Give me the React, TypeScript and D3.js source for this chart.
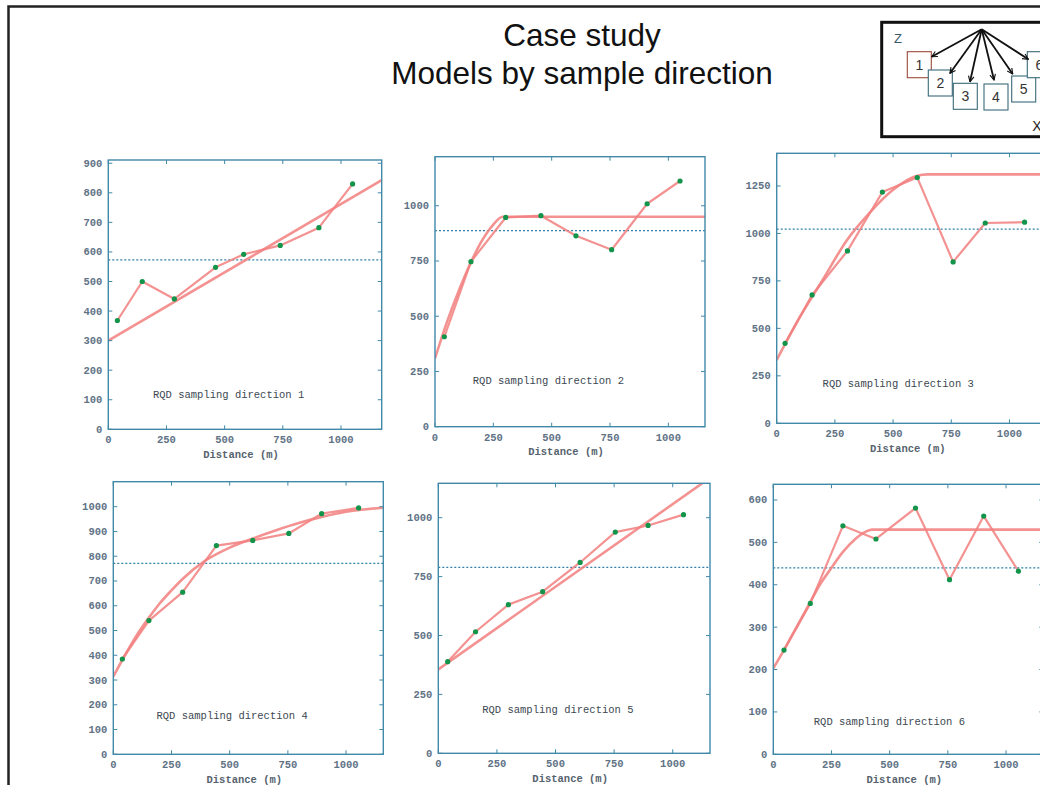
import React from "react";
import * as d3 from "d3";

// ---------- DATA ----------
const xTicks = [0, 250, 500, 750, 1000];

const dist1 = [39, 146, 284, 461, 582, 739, 905, 1050];
const rqd1 = [368, 500, 441, 548, 592, 622, 682, 830];
const model1X = [0, 1175];
const model1Y = [300, 843];
const mean1 = 573;
const yTicks1 = [0, 100, 200, 300, 400, 500, 600, 700, 800, 900];

const dist2 = [40, 154, 303, 454, 604, 757, 909, 1050];
const rqd2 = [407, 747, 947, 955, 864, 801, 1009, 1112];
const model2X = [0, 50, 100, 150, 200, 250, 290, 1160];
const model2Y = [309, 470, 610, 735, 840, 915, 950, 950];
const mean2 = 887;
const yTicks2 = [0, 250, 500, 750, 1000];

const dist3 = [36, 152, 304, 454, 604, 758, 896, 1065];
const rqd3 = [421, 676, 908, 1218, 1294, 850, 1055, 1059];
const model3X = [0, 100, 200, 300, 400, 500, 600, 650, 1200];
const model3Y = [333, 560, 760, 962, 1110, 1230, 1303, 1311, 1311];
const mean3 = 1023;
const yTicks3 = [0, 250, 500, 750, 1000, 1250];

const dist4 = [39, 153, 298, 443, 599, 754, 895, 1054];
const rqd4 = [385, 540, 655, 843, 864, 892, 972, 995];
const model4X = [0, 50, 100, 150, 200, 250, 300, 400, 500, 600, 700, 800, 900, 1000, 1160];
const model4Y = [314, 400, 480, 548, 610, 662, 710, 785, 835, 872, 905, 935, 960, 980, 996];
const mean4 = 771;
const yTicks4 = [0, 100, 200, 300, 400, 500, 600, 700, 800, 900, 1000];

const dist5 = [40, 159, 299, 445, 605, 755, 895, 1046];
const rqd5 = [389, 516, 631, 686, 810, 939, 967, 1013];
const model5X = [0, 1160];
const model5Y = [356, 1170];
const mean5 = 789;
const yTicks5 = [0, 250, 500, 750, 1000];

const dist6 = [46, 159, 299, 441, 611, 757, 904, 1053];
const rqd6 = [246, 356, 539, 508, 581, 412, 562, 432];
const model6X = [0, 50, 100, 150, 200, 250, 300, 350, 400, 425, 1160];
const model6Y = [203, 250, 300, 350, 400, 440, 478, 507, 526, 530, 530];
const mean6 = 440;
const yTicks6 = [0, 100, 200, 300, 400, 500, 600];

const panelTitles = [
  "RQD sampling direction 1",
  "RQD sampling direction 2",
  "RQD sampling direction 3",
  "RQD sampling direction 4",
  "RQD sampling direction 5",
  "RQD sampling direction 6",
];
const xAxisTitle = "Distance (m)";
const titleLine1 = "Case study";
const titleLine2 = "Models by sample direction";
const insetBoxes = ["1", "2", "3", "4", "5", "6"];

// ---------- LAYOUT ----------
const panels = [
  { x0: 108.3, x1: 381.7, y0: 160, y1: 429.3, xMax: 1175, yMax: 911, lx: 0.44, ly: 0.885,
    dist: dist1, rqd: rqd1, mx: model1X, my: model1Y, mean: mean1, yTicks: yTicks1 },
  { x0: 435, x1: 705, y0: 156.7, y1: 426.7, xMax: 1157, yMax: 1222, lx: 0.42, ly: 0.84,
    dist: dist2, rqd: rqd2, mx: model2X, my: model2Y, mean: mean2, yTicks: yTicks2 },
  { x0: 776.7, x1: 1046.7, y0: 153.3, y1: 423.3, xMax: 1160, yMax: 1422, lx: 0.45, ly: 0.865,
    dist: dist3, rqd: rqd3, mx: model3X, my: model3Y, mean: mean3, yTicks: yTicks3 },
  { x0: 113.3, x1: 383.3, y0: 481.7, y1: 754.3, xMax: 1160, yMax: 1101, lx: 0.44, ly: 0.87,
    dist: dist4, rqd: rqd4, mx: model4X, my: model4Y, mean: mean4, yTicks: yTicks4 },
  { x0: 438.3, x1: 710, y0: 483.3, y1: 753.3, xMax: 1159, yMax: 1146, lx: 0.44, ly: 0.85,
    dist: dist5, rqd: rqd5, mx: model5X, my: model5Y, mean: mean5, yTicks: yTicks5 },
  { x0: 773.3, x1: 1043.3, y0: 484.3, y1: 754.3, xMax: 1160, yMax: 637, lx: 0.43, ly: 0.89,
    dist: dist6, rqd: rqd6, mx: model6X, my: model6Y, mean: mean6, yTicks: yTicks6 },
];

const AXIS = "#4189a8";
const TICKTXT = "#5f7386";
const RED = "#f27f7f";
const GREEN = "#12954a";
const MONO = "'Liberation Mono', 'DejaVu Sans Mono', monospace";

function Panel({ p, idx }: { p: any; idx: number }) {
  const x = d3.scaleLinear().domain([0, p.xMax]).range([p.x0, p.x1]);
  const y = d3.scaleLinear().domain([0, p.yMax]).range([p.y1, p.y0]);
  const line = d3.line<[number, number]>().x((d) => x(d[0])).y((d) => y(d[1]));
  const modelLine = d3
    .line<[number, number]>()
    .x((d) => x(d[0]))
    .y((d) => y(d[1]))
    .curve(d3.curveMonotoneX);
  const dataPts: [number, number][] = p.dist.map((d: number, i: number) => [d, p.rqd[i]]);
  const modelPts: [number, number][] = p.mx.map((d: number, i: number) => [d, p.my[i]]);
  const clipId = `clip${idx}`;
  const tl = 4;
  return (
    <g>
      <defs>
        <clipPath id={clipId}>
          <rect x={p.x0} y={p.y0} width={p.x1 - p.x0} height={p.y1 - p.y0} />
        </clipPath>
      </defs>
      <g clipPath={`url(#${clipId})`}>
        <line x1={x(0)} x2={x(p.xMax)} y1={y(p.mean)} y2={y(p.mean)}
          stroke="#2f7fa6" strokeWidth={1.2} strokeDasharray="2,2" />
        <path d={modelLine(modelPts) || ""} fill="none" stroke={RED} strokeWidth={2.6}
          strokeOpacity={0.85} strokeLinejoin="round" />
        <path d={line(dataPts) || ""} fill="none" stroke={RED} strokeWidth={2.2}
          strokeOpacity={0.85} strokeLinejoin="round" />
        {dataPts.map((d, i) => (
          <circle key={i} cx={x(d[0])} cy={y(d[1])} r={2.6} fill={GREEN} />
        ))}
      </g>
      <rect x={p.x0} y={p.y0} width={p.x1 - p.x0} height={p.y1 - p.y0}
        fill="none" stroke={AXIS} strokeWidth={1.4} />
      {xTicks.map((t) => (
        <g key={"x" + t}>
          <line x1={x(t)} x2={x(t)} y1={p.y1} y2={p.y1 - tl} stroke={AXIS} strokeWidth={1} />
          <line x1={x(t)} x2={x(t)} y1={p.y0} y2={p.y0 + tl} stroke={AXIS} strokeWidth={1} />
          <text x={x(t)} y={p.y1 + 14} textAnchor="middle" fontFamily={MONO}
            fontSize={10.5} fontWeight="bold" fill={TICKTXT}>{t}</text>
        </g>
      ))}
      {p.yTicks.map((t: number) => (
        <g key={"y" + t}>
          <line x1={p.x0} x2={p.x0 + tl} y1={y(t)} y2={y(t)} stroke={AXIS} strokeWidth={1} />
          <line x1={p.x1} x2={p.x1 - tl} y1={y(t)} y2={y(t)} stroke={AXIS} strokeWidth={1} />
          <text x={p.x0 - 6} y={y(t) + 3.5} textAnchor="end" fontFamily={MONO}
            fontSize={10.5} fontWeight="bold" fill={TICKTXT}>{t}</text>
        </g>
      ))}
      <text x={(p.x0 + p.x1) / 2 - 4} y={p.y1 + 28.5} textAnchor="middle" fontFamily={MONO}
        fontSize={10.5} fontWeight="bold" fill="#56636e">{xAxisTitle}</text>
      <text x={p.x0 + p.lx * (p.x1 - p.x0)} y={p.y0 + p.ly * (p.y1 - p.y0)} textAnchor="middle"
        fontFamily={MONO} fontSize={10.5} fill="#3c4852">{panelTitles[idx]}</text>
    </g>
  );
}

const insetLayout = [
  { x: 907.3, y: 51.7, c: "#9a4a3a", ax: 931.7, ay: 56.7 },
  { x: 928.3, y: 70, c: "#3a6a78", ax: 950, ay: 73.3 },
  { x: 953.3, y: 83.3, c: "#3a6a78", ax: 970, ay: 81.7 },
  { x: 984, y: 84, c: "#3a6a78", ax: 994, ay: 80 },
  { x: 1011.7, y: 76, c: "#3a6a78", ax: 1012.7, ay: 74 },
  { x: 1027.3, y: 51.7, c: "#3a6a78", ax: 1028.3, ay: 59.3 },
];

function Inset() {
  const apex = [981.7, 29.3];
  return (
    <g>
      <defs>
        <marker id="arr" viewBox="0 0 10 10" refX="9" refY="5" markerWidth="7" markerHeight="7"
          orient="auto" markerUnits="userSpaceOnUse">
          <path d="M1,1 L9,5 L1,9" fill="none" stroke="#111" strokeWidth={1.6} />
        </marker>
      </defs>
      <rect x={881.7} y={22.3} width={220} height={114.4} fill="#fff" stroke="#111" strokeWidth={3} />
      <text x={898} y={43} fontFamily="Arial, 'Liberation Sans', sans-serif" fontSize={13}
        fill="#3a5a6a" textAnchor="middle">Z</text>
      <text x={1037} y={131} fontFamily="Arial, 'Liberation Sans', sans-serif" fontSize={14}
        fill="#222" textAnchor="middle">X</text>
      {insetLayout.map((b, i) => (
        <g key={i}>
          <rect x={b.x} y={b.y} width={24} height={26} fill="#fff" stroke={b.c} strokeWidth={1.1} />
          <text x={b.x + 12} y={b.y + 18} textAnchor="middle"
            fontFamily="Arial, 'Liberation Sans', sans-serif" fontSize={14} fill="#333">
            {insetBoxes[i]}
          </text>
        </g>
      ))}
      {insetLayout.map((b, i) => (
        <line key={"a" + i} x1={apex[0]} y1={apex[1]} x2={b.ax} y2={b.ay} stroke="#111"
          strokeWidth={1.8} markerEnd="url(#arr)" />
      ))}
    </g>
  );
}

export default function App() {
  return (
    <svg width={1040} height={785} style={{ position: "absolute", left: 0, top: 0, background: "#fff" }}>
      <rect x={0} y={0} width={1040} height={785} fill="#fff" />
      <path d="M8.5,790 V6.5 H1045" fill="none" stroke="#222" strokeWidth={2.5} />
      <text x={582} y={46} textAnchor="middle" fontFamily="Arial, 'Liberation Sans', sans-serif"
        fontSize={31.5} fill="#111">{titleLine1}</text>
      <text x={582} y={84} textAnchor="middle" fontFamily="Arial, 'Liberation Sans', sans-serif"
        fontSize={31.5} fill="#111">{titleLine2}</text>
      <Inset />
      {panels.map((p, i) => (
        <Panel key={i} p={p} idx={i} />
      ))}
    </svg>
  );
}
